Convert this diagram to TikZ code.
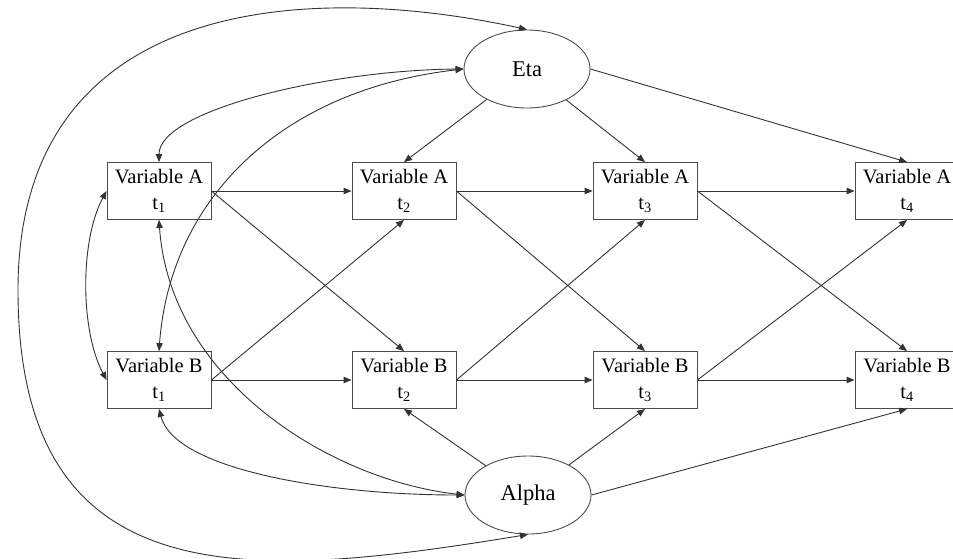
\documentclass[tikz,border=0pt]{standalone}
\usepackage{fontspec}
\setmainfont{Liberation Serif}
\usetikzlibrary{arrows.meta,shapes.geometric}
\begin{document}
\begin{tikzpicture}[x=1pt,y=-1pt,
  line width=0.9pt,
  var/.style={draw=black!70, rectangle, minimum width=104pt, minimum height=57pt, inner sep=0pt, align=center, font=\fontsize{20.5}{26.5}\selectfont, execute at begin node=\rule{0pt}{20pt}},
  lat/.style={draw=black!70, ellipse, minimum width=126pt, minimum height=78pt, inner sep=0pt, font=\fontsize{22.5}{26}\selectfont},
  arr/.style={draw=black!80, -{Triangle[length=8pt,width=6.5pt]}},
  dbl/.style={draw=black!80, {Triangle[length=8pt,width=6.5pt]}-{Triangle[length=8pt,width=6.5pt]}}
]
\useasboundingbox (0,0) rectangle (953,558);
% latent factors
\node[lat] (Eta) at (527,69) {Eta};
\node[lat] (Alpha) at (528,495) {Alpha};
% observed variables
\node[var] (A1) at (159,191) {Variable A\\t\textsubscript{1}};
\node[var] (A2) at (404,191) {Variable A\\t\textsubscript{2}};
\node[var] (A3) at (645,191) {Variable A\\t\textsubscript{3}};
\node[var] (A4) at (907,191) {Variable A\\t\textsubscript{4}};
\node[var] (B1) at (159,380) {Variable B\\t\textsubscript{1}};
\node[var] (B2) at (404,380) {Variable B\\t\textsubscript{2}};
\node[var] (B3) at (645,380) {Variable B\\t\textsubscript{3}};
\node[var] (B4) at (907,380) {Variable B\\t\textsubscript{4}};
\coordinate (L) at (18,290);
% autoregressive paths
\draw[arr] (A1.east) -- (A2.west);
\draw[arr] (A2.east) -- (A3.west);
\draw[arr] (A3.east) -- (A4.west);
\draw[arr] (B1.east) -- (B2.west);
\draw[arr] (B2.east) -- (B3.west);
\draw[arr] (B3.east) -- (B4.west);
% cross-lagged paths
\draw[arr] (A1.east) -- (B2.north);
\draw[arr] (B1.east) -- (A2.south);
\draw[arr] (A2.east) -- (B3.north);
\draw[arr] (B2.east) -- (A3.south);
\draw[arr] (A3.east) -- (B4.north);
\draw[arr] (B3.east) -- (A4.south);
% factor loadings
\draw[arr] (Eta) -- (A2.north);
\draw[arr] (Eta) -- (A3.north);
\draw[arr] (Eta.east) -- (A4.north);
\draw[arr] (Alpha) -- (B2.south);
\draw[arr] (Alpha) -- (B3.south);
\draw[arr] (Alpha.east) -- (B4.south);
% covariances
\draw[dbl] (A1.north) .. controls (159,110) and (330,70) .. (Eta.west);
\draw[dbl] (B1.north) .. controls (170,200) and (280,90) .. (Eta.west);
\draw[dbl] (A1.south) .. controls (170,380) and (330,480) .. (Alpha.west);
\draw[dbl] (B1.south) .. controls (175,470) and (330,495) .. (Alpha.west);
\draw[dbl] (A1.west) .. controls (80,240) and (80,330) .. (B1.west);
\draw[dbl] (Eta.north) .. controls (300,-20) and (18,0) .. (L) .. controls (18,600) and (250,580) .. (Alpha.south);
\end{tikzpicture}
\end{document}
